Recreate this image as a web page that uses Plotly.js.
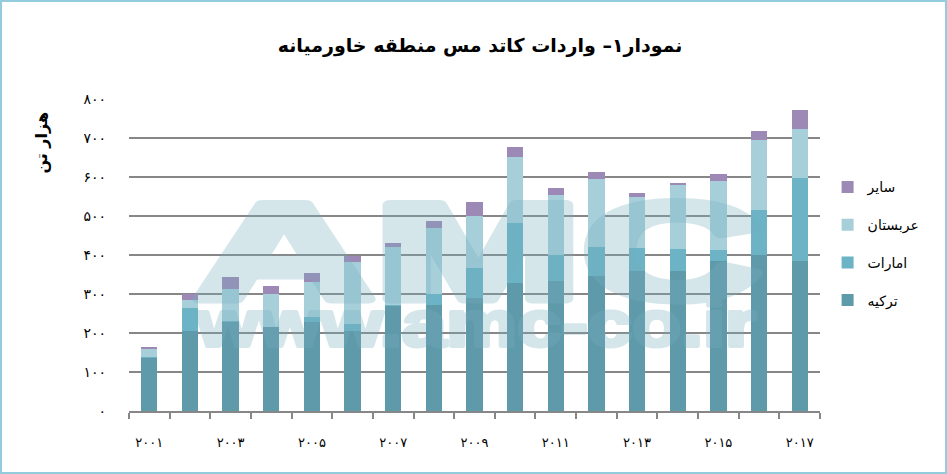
<!DOCTYPE html>
<html>
<head>
<meta charset="utf-8">
<script src="https://cdn.plot.ly/plotly-3.0.1.min.js"></script>
<style>
  html, body { margin: 0; padding: 0; background: #fff; }
  #wrap { position: relative; width: 947px; height: 474px; }
  #plot { width: 943px; height: 470px; border: 2px solid #93cddd; }
  #mark { position: absolute; left: 0; top: 0; pointer-events: none; }
</style>
</head>
<body>
<div id="wrap">
  <div id="plot"></div>
  <svg id="mark" width="947" height="474">
    <g opacity="0.3" fill="rgb(120,175,192)" stroke="rgb(120,175,192)"
       font-family="Liberation Sans" font-weight="bold" stroke-linejoin="round">
      <text>
        <tspan x="194" y="299" textLength="568" lengthAdjust="spacingAndGlyphs"
               font-size="138" stroke-width="9">AMC</tspan>
        <tspan x="197" y="346" textLength="559" lengthAdjust="spacingAndGlyphs"
               font-size="64" stroke-width="4">www.amc-co.ir</tspan>
      </text>
    </g>
  </svg>
</div>
<script>
const years = [2001, 2002, 2003, 2004, 2005, 2006, 2007, 2008, 2009,
               2010, 2011, 2012, 2013, 2014, 2015, 2016, 2017];
const turkey   = [136, 205, 228, 215, 228, 204, 268, 273, 289, 329, 334, 346, 359, 360, 385, 400, 384];
const emirates = [2, 59, 4, 1, 12, 18, 4, 27, 77, 154, 66, 75, 59, 56, 29, 115, 213];
const arabia   = [22, 20, 80, 85, 92, 159, 148, 169, 135, 168, 155, 173, 132, 163, 175, 180, 125];
const others   = [4, 15, 31, 20, 21, 16, 12, 19, 35, 25, 16, 18, 10, 5, 18, 22, 49];

const labelYears = [2001, 2003, 2005, 2007, 2009, 2011, 2013, 2015, 2017];
const yTicks = [0, 100, 200, 300, 400, 500, 600, 700, 800];

const faDigits = '۰۱۲۳۴۵۶۷۸۹';
const toFa = n => String(n).replace(/\d/g, d => faDigits[d]);

const FONT = 'DejaVu Sans';

// rank: top of the legend first, like the stack seen from above
function series(name, values, color, rank) {
  return {
    type: 'bar',
    x: years,
    y: values,
    name: name,
    legendgroup: name,
    legendrank: rank,
    marker: { color: color },
    hoverinfo: 'skip',
  };
}

const data = [
  series('ترکیه', turkey, '#5f9aaa', 4),
  series('امارات', emirates, '#6bb3c5', 3),
  series('عربستان', arabia, '#a6cfd9', 2),
  series('سایر', others, '#9d89b5', 1),
];

const layout = {
  width: 943,
  height: 470,
  margin: { l: 127, r: 125, t: 97, b: 61 },
  paper_bgcolor: '#fff',
  plot_bgcolor: '#fff',
  barmode: 'stack',
  bargap: 0.6,
  font: { family: FONT, size: 13, color: '#000' },
  title: {
    text: 'نمودار۱– واردات کاتد مس منطقه خاورمیانه',
    font: { family: FONT, size: 19, weight: 'bold', color: '#000' },
    x: 0.507,
    xanchor: 'center',
    y: 0.908,
    yanchor: 'middle',
  },
  xaxis: {
    range: [2000.5, 2017.5],
    tickvals: labelYears,
    ticktext: labelYears.map(toFa),
    ticks: '',
    ticklabelstandoff: 18,
    showgrid: false,
    zeroline: false,
    showline: true,
    linecolor: '#878787',
    linewidth: 2,
    minor: {
      tick0: 2000.5,
      dtick: 1,
      ticks: 'outside',
      ticklen: 6,
      tickwidth: 2,
      tickcolor: '#878787',
      showgrid: false,
    },
    tickfont: { family: FONT, size: 13 },
  },
  yaxis: {
    range: [0, 800],
    tickvals: yTicks,
    ticktext: yTicks.map(toFa),
    ticks: '',
    ticklabelstandoff: 22,
    showgrid: true,
    gridcolor: '#878787',
    gridwidth: 2,
    zeroline: false,
    showline: false,
    tickfont: { family: FONT, size: 14 },
  },
  showlegend: true,
  legend: {
    x: 1.011,
    xanchor: 'left',
    y: 0.768,
    yanchor: 'top',
    traceorder: 'grouped',
    tracegroupgap: 16.5,
    font: { family: FONT, size: 14, color: '#000' },
    bgcolor: 'rgba(0,0,0,0)',
  },
  annotations: [{
    text: 'هزار تن',
    xref: 'paper',
    yref: 'paper',
    x: -0.126,
    y: 0.86,
    xanchor: 'center',
    yanchor: 'middle',
    textangle: -90,
    showarrow: false,
    font: { family: FONT, size: 16, weight: 'bold', color: '#000' },
  }],
};

Plotly.newPlot('plot', data, layout, { displayModeBar: false, staticPlot: true });
</script>
</body>
</html>
